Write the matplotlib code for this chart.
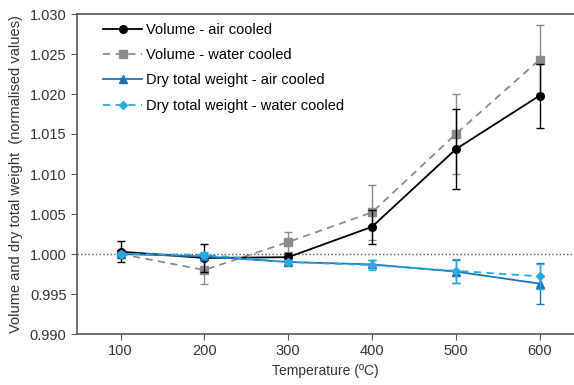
import numpy as np
import matplotlib.pyplot as plt
from matplotlib.lines import Line2D

plt.rcParams['font.family'] = ['Liberation Sans', 'DejaVu Sans']

temps = [100, 200, 300, 400, 500, 600]

vol_air = [1.0003, 0.9995, 0.9996, 1.0034, 1.0131, 1.0198]
vol_air_err = [0.0013, 0.0017, 0.0005, 0.0021, 0.0050, 0.0040]

vol_water = [1.0000, 0.9980, 1.0015, 1.0052, 1.0150, 1.0243]
vol_water_err = [0.0005, 0.0017, 0.0012, 0.0034, 0.0050, 0.0043]

wt_air = [1.0000, 0.9997, 0.9990, 0.9987, 0.9978, 0.9963]
wt_air_err = [0.0003, 0.0004, 0.0003, 0.0005, 0.0014, 0.0026]

wt_water = [1.0000, 0.9999, 0.9990, 0.9986, 0.9979, 0.9972]
wt_water_err = [0.0003, 0.0003, 0.0003, 0.0006, 0.0015, 0.0016]

fig = plt.figure(figsize=(5.74, 3.85), dpi=100)
ax = fig.add_axes([77 / 574, 1 - 334 / 385, 1 - 77 / 574, (334 - 14) / 385])

# reference line at 1.000
ax.axhline(1.0, color='#555555', linestyle=':', linewidth=1.0, zorder=1)

series = [
    (vol_air, vol_air_err, 'black', '-', 'o', 5.5, 'Volume - air cooled', 3),
    (vol_water, vol_water_err, '#8a8a8a', '--', 's', 5.5, 'Volume - water cooled', 2),
    (wt_air, wt_air_err, '#1a74bb', '-', '^', 5.5, 'Dry total weight - air cooled', 4),
    (wt_water, wt_water_err, '#2aa9e0', '--', 'D', 4.5, 'Dry total weight - water cooled', 5),
]

handles = []
for vals, err, col, ls, mk, ms, lab, z in series:
    kw = dict(dashes=(4, 3)) if ls == '--' else {}
    ax.errorbar(temps, vals, yerr=err, color=col, ls=ls, lw=1.3, marker=mk, ms=ms,
                capsize=3, elinewidth=1.0, zorder=z, **kw)
    handles.append(Line2D([], [], color=col, ls=ls, lw=1.3, marker=mk, ms=ms, **kw))

ax.set_xlim(48, 641)
ax.set_ylim(0.990, 1.030)
ax.set_xticks(temps)
yt = np.arange(0.990, 1.0301, 0.005)
ax.set_yticks(yt)
ax.set_yticklabels(['%.3f' % v for v in yt])

for s in ['left', 'bottom', 'top']:
    ax.spines[s].set_color('#555555')
    ax.spines[s].set_linewidth(1.2)
ax.spines['right'].set_visible(False)
ax.tick_params(direction='out', length=4, color='#555555', labelsize=10.5,
               labelcolor='#333333')

ax.set_xlabel('Temperature (ºC)', fontsize=10, color='#333333')
ax.set_ylabel('Volume and dry total weight  (normalised values)', fontsize=10.5,
              color='#333333', labelpad=5)

ax.legend(handles, [s[6] for s in series], loc='upper left',
          bbox_to_anchor=(0.052, 1 - 8.7 / 320), borderaxespad=0, borderpad=0,
          frameon=False, fontsize=10.5, handlelength=2.7, labelspacing=0.78,
          handletextpad=0.25)

fig.savefig('out.png', dpi=100)
